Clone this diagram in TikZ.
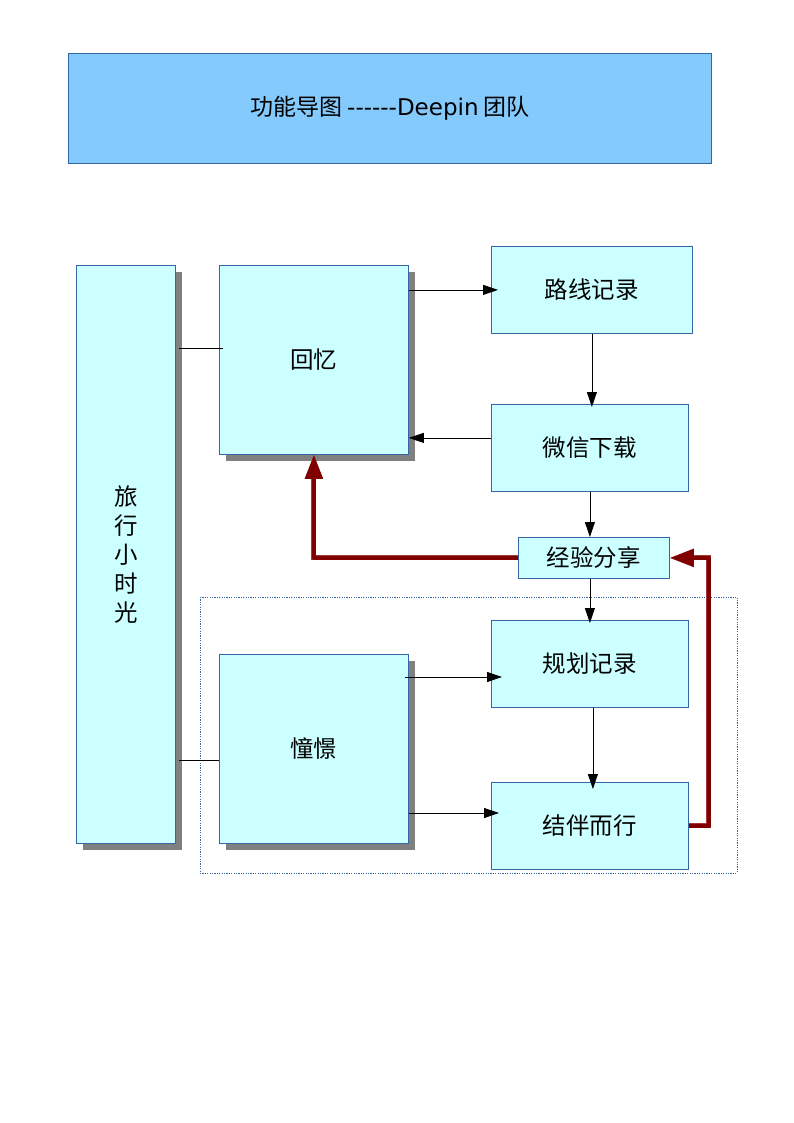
\documentclass[tikz,border=0pt]{standalone}
\usepackage{fontspec}
\setmainfont{Noto Sans CJK SC}
\newfontfamily\latinfont{DejaVu Sans}
\usetikzlibrary{arrows.meta,shadows}
\definecolor{boxfill}{HTML}{CCFFFF}
\definecolor{boxline}{HTML}{3465A4}
\definecolor{titlefill}{HTML}{85CAFD}
\definecolor{shadowgray}{HTML}{808080}
\definecolor{flowred}{HTML}{800000}
\definecolor{flowredlight}{HTML}{A33A3A}
\tikzset{
  box/.style={draw=boxline, fill=boxfill, line width=0.8pt, inner sep=0pt,
    anchor=north west, font=\fontsize{23.5}{29}\selectfont, align=center},
  shadowed/.style={general shadow={fill=shadowgray, shadow xshift=7pt, shadow yshift=-7pt}},
  arr/.style={line width=0.8pt, -{Triangle[length=15pt,width=10pt]}},
  link/.style={line width=0.8pt},
  redarr/.style={line width=4pt, draw=flowred, line join=round,
    preaction={draw=flowredlight, line width=5pt},
    -{Triangle[length=24pt,width=17pt,fill=flowred]}},
  region/.style={draw=boxline, dash pattern=on 1.2pt off 1.2pt, line width=0.8pt}
}
\begin{document}
\begin{tikzpicture}[x=1pt,y=-1pt]
  \useasboundingbox (0,0) rectangle (794,1123);

  % title banner
  \node[box, fill=titlefill, minimum width=643pt, minimum height=110pt,
    font=\fontsize{23}{28}\selectfont] (title) at (68,53)
    {功能导图 {\latinfont ------Deepin} 团队};

  % grouping frame for the planning part
  \draw[region] (200,597) rectangle (737,873);

  % main blocks
  \node[box, shadowed, minimum width=99pt, minimum height=578pt] (lvxing) at (76,265)
    {旅\\行\\小\\时\\光};
  \node[box, shadowed, minimum width=189pt, minimum height=189pt] (huiyi) at (219,265) {回忆};
  \node[box, shadowed, minimum width=189pt, minimum height=189pt] (chongjing) at (219,654) {憧憬};

  \node[box, minimum width=201pt, minimum height=87pt] (luxian) at (491,246) {路线记录};
  \node[box, minimum width=197pt, minimum height=87pt] (weixin) at (491,404) {微信下载};
  \node[box, minimum width=151pt, minimum height=41pt] (jingyan) at (518,537) {经验分享};
  \node[box, minimum width=197pt, minimum height=87pt] (guihua) at (491,620) {规划记录};
  \node[box, minimum width=197pt, minimum height=87pt] (jieban) at (491,782) {结伴而行};

  % links from the timeline block
  \coordinate (l1) at ([xshift=3pt,yshift=-83pt]lvxing.north east);
  \coordinate (l2) at ([xshift=3pt,yshift=-495pt]lvxing.north east);
  \draw[link, shorten >=-4pt] (l1) -- (l1 -| huiyi.west);
  \draw[link] (l2) -- (l2 -| chongjing.west);

  % memory flow
  \draw[arr, shorten >=-7pt] (huiyi.east |- luxian.west) -- (luxian.west);
  \draw[arr, shorten >=-3pt] (luxian.south) -- (luxian.south |- weixin.north);
  \coordinate (w1) at ([yshift=10pt]weixin.west);
  \draw[arr] (w1) -- (w1 -| huiyi.east);
  \draw[arr] (weixin.south) -- (weixin.south |- jingyan.north);
  \draw[arr, shorten >=-3pt] (weixin.south |- jingyan.south) -- (weixin.south |- guihua.north);

  % longing flow
  \coordinate (c1) at ([xshift=-4pt,yshift=-23pt]chongjing.north east);
  \coordinate (c2) at ([yshift=-159pt]chongjing.north east);
  \draw[arr, shorten >=-11pt] (c1) -- (c1 -| guihua.west);
  \draw[arr, shorten >=-8pt] (c2) -- (c2 -| jieban.west);
  \coordinate (g1) at ([xshift=3pt]guihua.south);
  \draw[arr, shorten >=-7pt] (g1) -- (g1 |- jieban.north);

  % feedback loops
  \draw[redarr] (jingyan.west) -- (huiyi.south |- jingyan.west) -- (huiyi.south);
  \draw[redarr] (jieban.east) -- ++(20,0) |- (jingyan.east);
\end{tikzpicture}
\end{document}
